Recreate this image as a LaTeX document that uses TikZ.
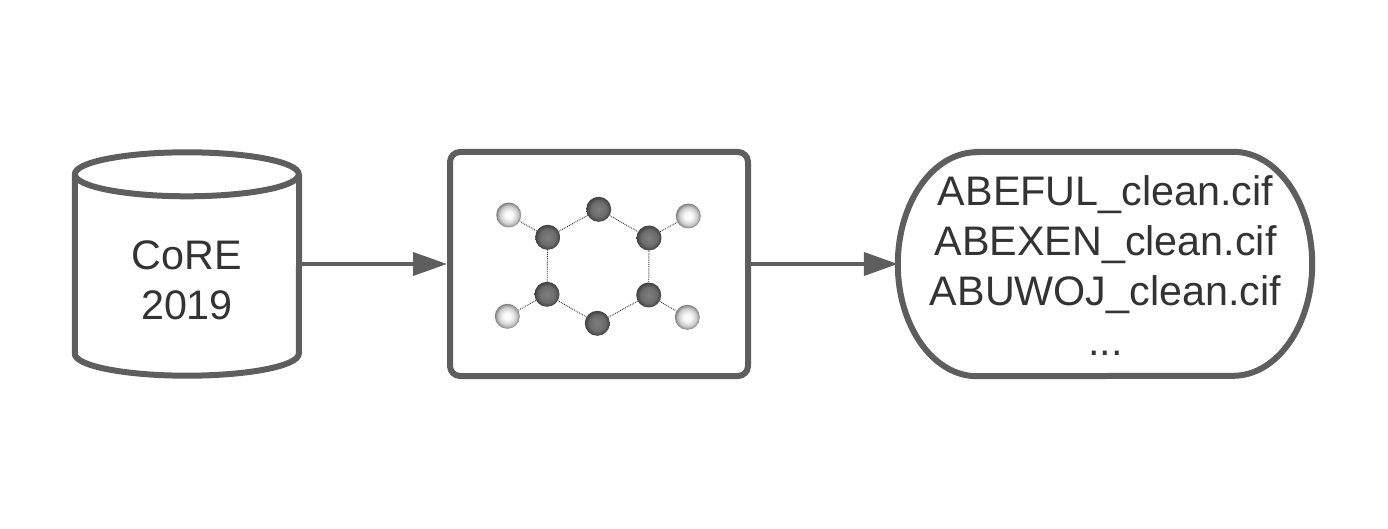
\documentclass[tikz,border=0pt]{standalone}
\usepackage{fontspec}
\setmainfont{Liberation Sans}
\usetikzlibrary{arrows.meta}
\definecolor{linegray}{HTML}{5E5E5E}
\definecolor{textgray}{HTML}{333333}
\pgfdeclareradialshading{carbonball}{\pgfpointorigin}{color(0bp)=(black!50);color(16bp)=(black!58);color(25bp)=(black!75);color(50bp)=(black!75)}
\pgfdeclareradialshading{hydroball}{\pgfpointorigin}{color(0bp)=(white);color(8bp)=(black!3);color(18bp)=(black!20);color(25bp)=(black!50);color(50bp)=(black!50)}
\tikzset{
box/.style={draw=linegray,line width=6pt},
txt/.style={text=textgray,align=center,font=\fontsize{41.3}{50}\selectfont},
conn/.style={draw=linegray,line width=4pt,-{Triangle[length=34pt,width=23pt]}},
carbon/.style={circle,minimum size=25pt,inner sep=0pt,shading=carbonball},
hydro/.style={circle,minimum size=25pt,inner sep=0pt,shading=hydroball},
bond/.style={draw=black!80,line width=0.9pt,densely dotted}
}
\begin{document}
\begin{tikzpicture}[x=1pt,y=-1pt]
\useasboundingbox (0,0) rectangle (1388,529);
% left cylinder
\node[minimum width=230pt,minimum height=229pt,inner sep=0pt] (core) at (187,264) {};
\draw[box,line join=round] ([xshift=3pt,yshift=-25pt]core.north west) arc[start angle=180,end angle=-180,x radius=112pt,y radius=22pt]
  -- ([xshift=3pt,yshift=25pt]core.south west) arc[start angle=180,end angle=360,x radius=112pt,y radius=22pt]
  -- ([xshift=-3pt,yshift=-25pt]core.north east);
\node[txt] (corelabel) at (187,280.5) {CoRE\\2019};
% middle box
\node[box,rectangle,rounded corners=10pt,minimum width=298pt,minimum height=224pt] (mol) at (599,264) {};
% right box
\node[minimum width=414pt,minimum height=224pt,inner sep=0pt] (files) at (1105,264) {};
\draw[box] ([xshift=79pt]files.north west) -- ([xshift=-79pt]files.north east)
  arc[start angle=90,end angle=0,x radius=79pt,y radius=112pt]
  arc[start angle=0,end angle=-90,x radius=79pt,y radius=112pt]
  -- ([xshift=79pt]files.south west)
  arc[start angle=270,end angle=180,x radius=79pt,y radius=112pt]
  arc[start angle=180,end angle=90,x radius=79pt,y radius=112pt] -- cycle;
\node[txt] (fileslabel) at (1105.5,266) {ABEFUL\_clean.cif\\ABEXEN\_clean.cif\\ABUWOJ\_clean.cif\\...};
% atoms
\foreach \n/\x/\y in {c1/547.7/237.3,c2/598.7/209.3,c3/649/238,c4/648.7/295,c5/597.3/323.3,c6/547/294.3}
  \node[carbon] (\n) at (\x,\y) {};
\foreach \n/\x/\y in {h1/508.7/215,h3/688.3/216,h4/687.3/317.3,h6/507.3/316.3}
  \node[hydro] (\n) at (\x,\y) {};
\foreach \a/\b in {c1/c2,c2/c3,c3/c4,c4/c5,c5/c6,c6/c1,c1/h1,c3/h3,c4/h4,c6/h6}
  \draw[bond] (\a) -- (\b);
% arrows
\draw[conn] ([xshift=-3pt]core.east) -- (mol.west);
\draw[conn] (mol.east) -- (files.west);
\end{tikzpicture}
\end{document}
